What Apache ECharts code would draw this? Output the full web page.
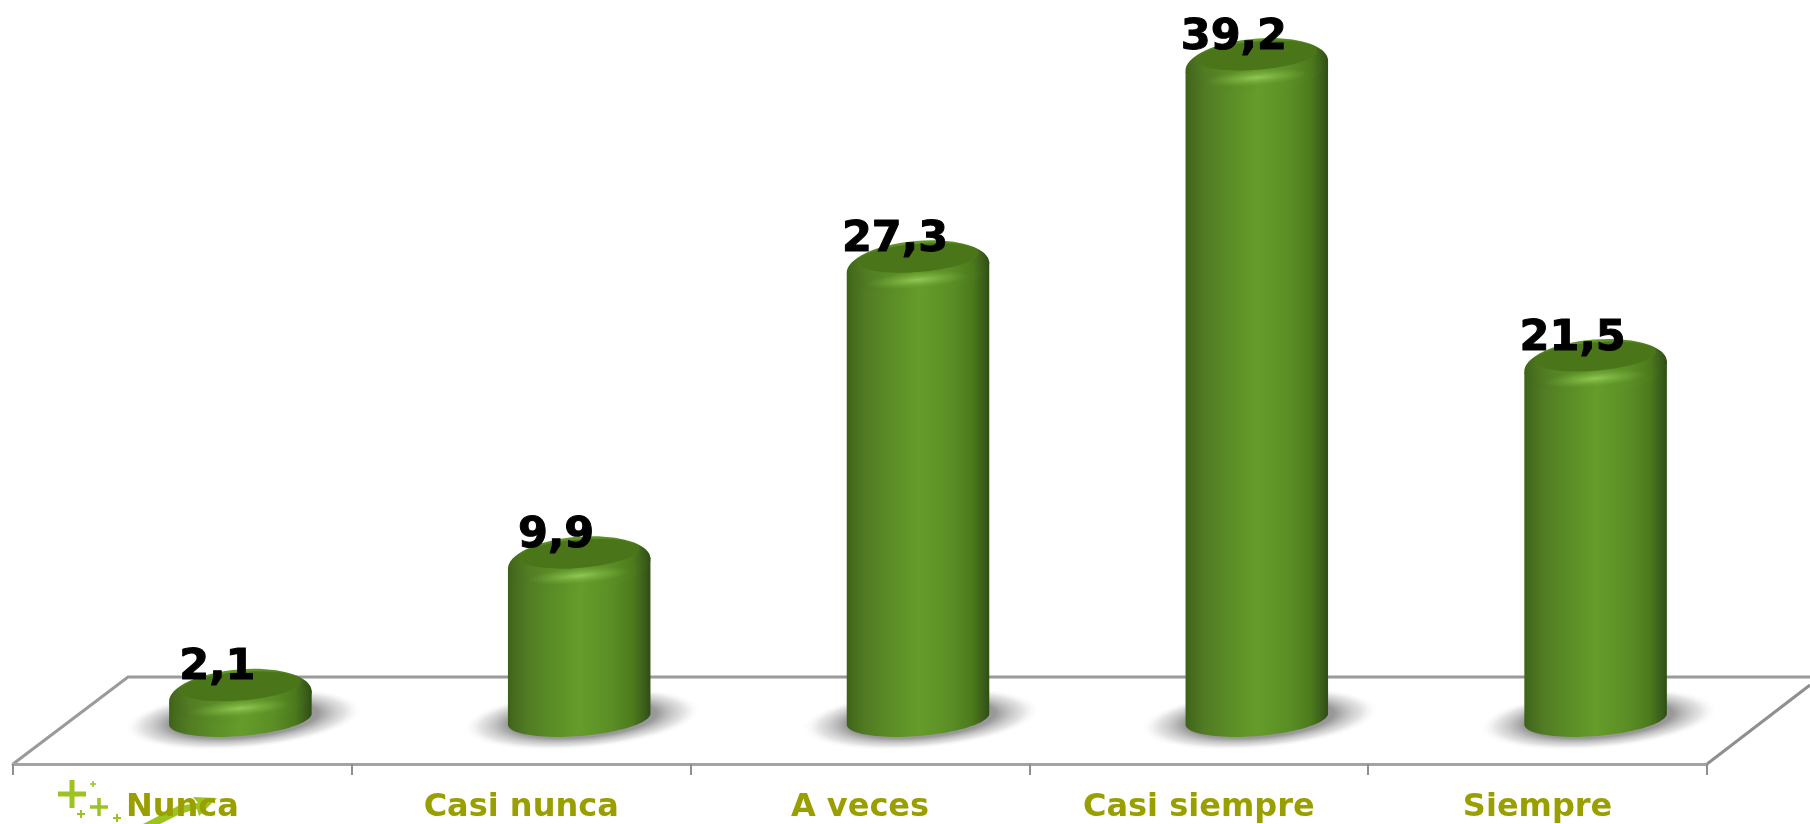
<!DOCTYPE html>
<html><head><meta charset="utf-8">
<style>html,body{margin:0;padding:0;background:#fff;overflow:hidden}#c{width:1810px;height:824px}</style>
<script src="https://cdn.jsdelivr.net/npm/echarts@6/dist/echarts.min.js"></script>
</head><body><div id="c"></div>
<script>
const categories = ['Nunca', 'Casi nunca', 'A veces', 'Casi siempre', 'Siempre'];
const values = [2.1, 9.9, 27.3, 39.2, 21.5];

const HALF = 71.5, TILT = 0.082;
const bodyStops = [
  {offset:0, color:'#3d6216'},{offset:0.03, color:'#44691c'},{offset:0.14, color:'#527c24'},
  {offset:0.3, color:'#5a8c26'},{offset:0.5, color:'#659c2a'},{offset:0.72, color:'#5b8f26'},
  {offset:0.88, color:'#4c7a1c'},{offset:0.97, color:'#38591a'},{offset:1, color:'#2f4e10'}
];
function hGrad(){ return {type:'linear',x:0,y:0,x2:1,y2:0,colorStops:bodyStops}; }

function renderBar(params, api){
  const v = api.value(1);
  const top = api.coord([api.value(0), v]);
  const zero = api.coord([api.value(0), 0]);
  const cx = top[0], yt = top[1], yb = zero[1] - 10;
  const c = Math.cos(TILT), s = Math.sin(TILT);
  const pts = [];
  pts.push([cx-HALF*c, yt+3+HALF*s]);
  const ry = 17;
  for(let i=0;i<=48;i++){
    const a = Math.PI - Math.PI*i/48;
    const ex = HALF*Math.cos(a), ey = ry*Math.sin(a);
    pts.push([cx + ex*c + ey*s, yb - ex*s + ey*c]);
  }
  pts.push([cx+HALF*c, yt+3-HALF*s]);
  const label = String(v).replace('.', ',');
  return {type:'group', children:[
    {type:'circle', shape:{cx:0,cy:0,r:1}, x:cx+3, y:yb, scaleX:120, scaleY:30, rotation:TILT, z2:1,
      style:{fill:{type:'radial',x:0.5,y:0.5,r:0.5,colorStops:[
        {offset:0,color:'rgba(125,125,125,0.9)'},{offset:0.62,color:'rgba(135,135,135,0.85)'},
        {offset:0.85,color:'rgba(185,185,185,0.4)'},{offset:1,color:'rgba(255,255,255,0)'}]}}},
    {type:'polygon', shape:{points:pts}, z2:2, style:{fill:hGrad()}},
    {type:'ellipse', shape:{cx:0,cy:0,rx:HALF,ry:27}, x:cx, y:yt+3, rotation:TILT, z2:3,
      style:{fill:{type:'linear',x:0,y:0,x2:1,y2:0,colorStops:bodyStops}}},
    {type:'ellipse', shape:{cx:0,cy:0,rx:60,ry:14}, x:cx, y:yt-7, rotation:TILT, z2:4,
      style:{fill:'#4a7519', shadowBlur:2, shadowColor:'#4f7d1c'}},
    {type:'circle', shape:{cx:0,cy:0,r:1}, x:cx, y:yt+15, scaleX:52, scaleY:8, rotation:TILT, z2:5,
      style:{fill:{type:'radial',x:0.5,y:0.5,r:0.5,colorStops:[
        {offset:0,color:'rgba(150,205,90,0.9)'},{offset:1,color:'rgba(120,175,60,0)'}]}}},
    {type:'text', x:cx-23, y:yt-25, z2:10,
      style:{text:label, fill:'#000', stroke:'#000', lineWidth:1, font:'bold 43px "DejaVu Sans"', align:'center', verticalAlign:'middle'}}
  ]};
}

function plus(x,y,a,w){ return [
  {type:'rect',shape:{x:x-a,y:y-w/2,width:2*a,height:w},style:{fill:'#9cc320'},z:0},
  {type:'rect',shape:{x:x-w/2,y:y-a,width:w,height:2*a},style:{fill:'#9cc320'},z:0}]; }

const chart = echarts.init(document.getElementById('c'), null, {renderer:'canvas'});
chart.setOption({
  animation:false,
  backgroundColor:'#fff',
  grid:[
    {left:13, right:103, top:15, bottom:60},
    {left:71, width:1694, top:15, height:714}
  ],
  xAxis:[
    {type:'category', gridIndex:0, data:categories,
      axisLine:{show:true, lineStyle:{color:'#a3a3a3', width:3}},
      axisTick:{show:true, length:11, lineStyle:{color:'#8f8f8f', width:2}},
      axisLabel:{color:'#9a9f00', fontFamily:'DejaVu Sans', fontWeight:'bold', fontSize:32, margin:28}},
    {type:'category', gridIndex:1, data:categories, show:false}
  ],
  yAxis:[
    {type:'value', gridIndex:0, min:0, max:42, show:false},
    {type:'value', gridIndex:1, min:0, max:42, show:false}
  ],
  series:[{
    type:'custom', xAxisIndex:1, yAxisIndex:1, clip:false, z:5,
    renderItem:renderBar,
    encode:{x:0,y:1},
    data:categories.map((c,i)=>[i,values[i]])
  }],
  graphic:[
    {type:'polyline', z:0, shape:{points:[[13,764],[128,677],[1810,677]]}, style:{stroke:'#9a9a9a', lineWidth:3, fill:null}},
    {type:'line', z:0, shape:{x1:1707,y1:764,x2:1810,y2:685}, style:{stroke:'#8f8f8f', lineWidth:3}},
    ...plus(72,794,14,5), ...plus(99,807,9,3.5), ...plus(81,814,4,2), ...plus(93,784,3,1.5), ...plus(117,818,4,2),
    {type:'polygon', z:0, shape:{points:[[143,824],[178,806],[198,803],[193,797],[217,798],[199,816],[197,809],[180,814],[160,824]]}, style:{fill:'#9cc320'}}
  ]
});
</script></body></html>
